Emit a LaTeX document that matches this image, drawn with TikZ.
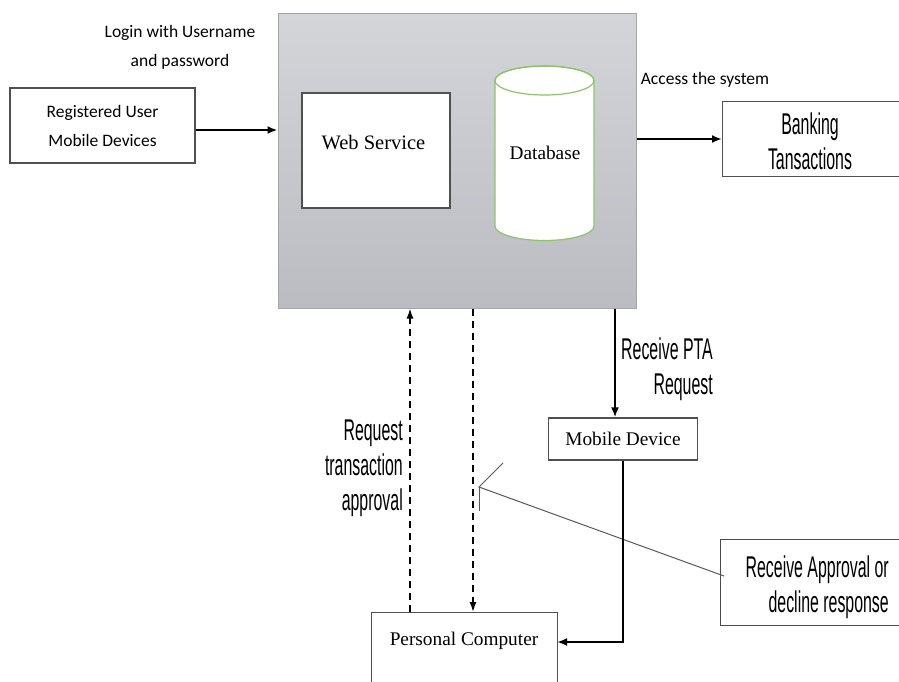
\documentclass[tikz,border=0pt]{standalone}
\usepackage{fontspec}
\setmainfont{Liberation Serif}
\newfontfamily\calibri{Carlito}
\newfontfamily\agency[FakeStretch=0.53]{Liberation Sans}
\usetikzlibrary{arrows.meta}
\definecolor{dbgreen}{HTML}{8CC46A}
\definecolor{systop}{HTML}{D3D5D9}
\definecolor{sysbot}{HTML}{BBBCC1}
\definecolor{sysborder}{HTML}{A4A5A9}
\definecolor{boxborder}{HTML}{505050}
\begin{document}
\begin{tikzpicture}[x=1pt,y=-1pt,
  box/.style={draw=boxborder, line width=1.3pt, fill=white, inner sep=0pt},
  cal/.style={font=\calibri\fontsize{17.5}{29}\selectfont, align=center, inner sep=0pt},
  agy/.style={font=\agency\fontsize{30}{35}\selectfont, inner sep=0pt},
  tms/.style={font=\fontsize{19.3}{22}\selectfont},
  arr/.style={line width=2pt, -{Latex[length=10pt,width=8pt]}},
  darr/.style={line width=1.5pt, dash pattern=on 7pt off 5pt, -{Latex[length=10pt,width=7pt]}},
  callline/.style={draw=black!65, line width=1pt}]
\useasboundingbox (0,0) rectangle (899,681);
\clip (0,0) rectangle (899,681);
\fill[white] (0,0) rectangle (899,681);

% system box
\node[draw=sysborder, line width=1pt, top color=systop, bottom color=sysbot,
      minimum width=358pt, minimum height=295pt, inner sep=0pt] (sys) at (457,160.5) {};

% left box and labels
\node[box, minimum width=185pt, minimum height=75pt, cal] (reg) at (102.5,125.5) {Registered User\\Mobile Devices};
\node[cal] (login) at (180,47.5) {Login with Username\\and password};

% web service
\node[box, minimum width=148pt, minimum height=115pt] (web) at (376,150.5) {};
\node[font=\fontsize{20.5}{24}\selectfont] (webtext) at (373.5,143) {Web Service};

% database cylinder
\path[draw=dbgreen, line width=1.2pt, fill=white]
  (495,80.5) -- (495,226) arc[start angle=180, end angle=360, x radius=49.5pt, y radius=14.5pt]
  -- (594,80.5) arc[start angle=0, end angle=180, x radius=49.5pt, y radius=14.5pt] -- cycle;
\draw[dbgreen, line width=1.2pt] (544.5,80.5) ellipse [x radius=49.5pt, y radius=14.5pt];
\node[tms] (db) at (545,153) {Database};

% banking
\node[box, minimum width=190pt, minimum height=75pt, anchor=west] (bank) at (722,139) {};
\node[agy, align=center] (banktext) at (810,141.5) {Banking\\Tansactions};
\node[cal] (access) at (705,80) {Access the system};

% mobile device
\node[box, minimum width=149pt, minimum height=42pt, tms] (md) at (623,439) {Mobile Device};
\node[agy, align=right, anchor=east] (pta) at (713,369) {Receive PTA\\Request};

% personal computer
\node[box, minimum width=186pt, minimum height=120pt, anchor=north west] (pc) at (371,612) {};
\node[tms] (pctext) at (464,641) {Personal Computer};

\node[agy, align=right, anchor=east] (rta) at (403,468) {Request\\transaction\\approval};

% callout
\node[draw=black!70, line width=1pt, fill=white, minimum width=190pt, minimum height=86pt,
      anchor=north west, inner sep=0pt] (call) at (720,539) {};
\node[agy, align=right, anchor=east] (calltext) at (889,587) {Receive Approval or\\decline response};
\coordinate (ca) at (724,576);
\coordinate (cp) at (479,487);
\coordinate (cq) at (503,463);
\coordinate (cr) at (479,511);
\draw[callline] (ca) -- (cp) -- (cq);
\draw[callline] (cp) -- (cr);

% connectors
\draw[arr] ([yshift=-4.5pt]reg.east) -- ([yshift=-4.5pt]reg.east -| sys.west);
\draw[arr] (sys.east |- bank.west) -- (bank.west);
\coordinate (ptax) at (615,0);
\draw[arr] (sys.south -| ptax) -- (md.north -| ptax);
\coordinate (pcin) at (557,642);
\draw[arr] (md.south) |- (pcin);
\coordinate (upx) at (410,0);
\coordinate (dnx) at (473,0);
\draw[darr] (pc.north -| upx) -- (sys.south -| upx);
\draw[darr] (sys.south -| dnx) -- (pc.north -| dnx);
\end{tikzpicture}
\end{document}
